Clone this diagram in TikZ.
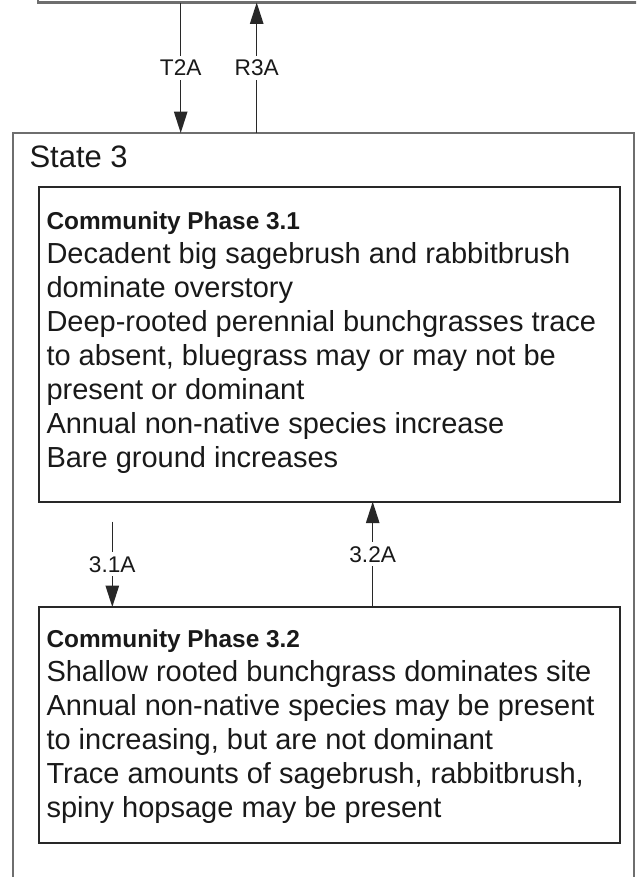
\documentclass[tikz,border=0pt]{standalone}
\usepackage{fontspec}
\setmainfont{Liberation Sans}
\usetikzlibrary{arrows.meta}

\definecolor{stategray}{RGB}{110,110,110}
\definecolor{phasegray}{RGB}{40,40,40}
\definecolor{inkgray}{RGB}{25,25,25}
\newcommand{\phasetitlefont}{\bfseries\fontsize{18.3}{25.5}\selectfont}

\tikzset{every picture/.style={line width=0.75pt}}
\tikzset{
	statebox/.style={draw=stategray, line width=1.7pt, inner sep=0pt, outer sep=0pt},
	phasebox/.style={draw=phasegray, line width=1.5pt, inner sep=0pt, outer sep=0pt, minimum width=435.4pt},
	phasetext/.style={anchor=north west, inner sep=0pt, align=left, text=inkgray, font=\fontsize{21.75}{25.5}\selectfont},
	flow/.style={draw=phasegray, line width=1.1pt, -{Triangle[length=16pt,width=10pt]}},
	flowlabel/.style={fill=white, inner sep=3pt, text=inkgray, font=\fontsize{17}{20}\selectfont}}

\begin{document}
\begin{tikzpicture}[x=0.75pt,y=0.75pt,yscale=-1,xscale=1]
	\useasboundingbox (0,0) rectangle (636,877);
	\clip (0,0) rectangle (636,877);

	%Shape: Rectangle (state above, mostly off the picture)
	\node [statebox, minimum width=496.3pt, minimum height=76.9pt] (s2) at (369.15,-48.75) {};
	%Shape: Rectangle (state 3)
	\node [statebox, minimum width=465.5pt, minimum height=620.25pt] (s3) at (323.65,546.5) {};
	% Text Node
	\node [anchor=base west, inner sep=0pt, text=inkgray, font=\fontsize{23.25}{28}\selectfont] (s3lbl) at (29,168) {State 3};

	%Shape: Rectangle (phase 3.1)
	\node [phasebox, minimum height=236.25pt] (p31) at (329.75,344.2) {};
	% Text Node
	\node [phasetext] (t31) at (46,211) {{\phasetitlefont Community Phase 3.1}\\
		Decadent big sagebrush and rabbitbrush\\
		dominate overstory\\
		Deep-rooted perennial bunchgrasses trace\\
		to absent, bluegrass may or may not be\\
		present or dominant\\
		Annual non-native species increase\\
		Bare ground increases};

	%Shape: Rectangle (phase 3.2)
	\node [phasebox, minimum height=177.2pt] (p32) at (329.75,725.15) {};
	% Text Node
	\node [phasetext] (t32) at (46,629) {{\phasetitlefont Community Phase 3.2}\\
		Shallow rooted bunchgrass dominates site\\
		Annual non-native species may be present\\
		to increasing, but are not dominant\\
		Trace amounts of sagebrush, rabbitbrush,\\
		spiny hopsage may be present};

	%Straight Lines
	\coordinate (t2a) at (180.7,0);
	\coordinate (r3a) at (256.7,0);
	\coordinate (a31) at (112.3,521.7);
	\coordinate (a32) at (372.7,0);
	\draw [flow] (t2a |- s2.south) -- node [flowlabel] (lt2a) {T2A} (t2a |- s3.north);
	\draw [flow] (r3a |- s3.north) -- node [flowlabel] (lr3a) {R3A} (r3a |- s2.south);
	\draw [flow] (a31) -- node [flowlabel] (l31a) {3.1A} (a31 |- p32.north);
	\draw [flow] (a32 |- p32.north) -- node [flowlabel] (l32a) {3.2A} (a32 |- p31.south);

\end{tikzpicture}
\end{document}
